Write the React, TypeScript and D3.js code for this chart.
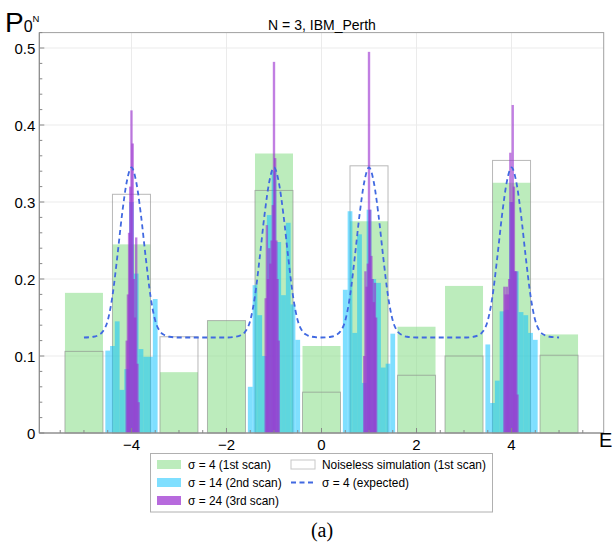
import React, { useEffect, useRef } from 'react';
import * as d3 from 'd3';

// 1st scan (sigma = 4): one wide bar per energy level
const energies = [-5, -4, -3, -2, -1, 0, 1, 2, 3, 4, 5];
const scan1 = [0.182, 0.245, 0.079, 0.146, 0.363, 0.113, 0.275, 0.138, 0.191, 0.325, 0.128];
const noiseless = [0.106, 0.310, 0.125, 0.146, 0.315, 0.053, 0.347, 0.075, 0.100, 0.354, 0.101];

// 2nd and 3rd scans zoom in around the peaks
const peaks = [-4, -1, 1, 4];
const scan2Offsets = [-0.5, -0.4, -0.3, -0.2, -0.1, 0, 0.1, 0.2, 0.3, 0.4, 0.5];
const scan2 = [
  [0.107, 0.113, 0.145, 0.056, 0.083, 0.300, 0.207, 0.109, 0.099, 0.099, 0.174],
  [0.060, 0.192, 0.153, 0.100, 0.283, 0.340, 0.248, 0.179, 0.273, 0.167, 0.121],
  [0.186, 0.288, 0.130, 0.258, 0.065, 0.290, 0.200, 0.195, 0.085, 0.090, 0.129],
  [0.115, 0.039, 0.068, 0.158, 0.160, 0.300, 0.210, 0.157, 0.153, 0.130, 0.121]
];
const scan3Offsets = [-0.2, -0.175, -0.15, -0.125, -0.1, -0.075, -0.05, -0.025, 0, 0.025, 0.05, 0.075, 0.1, 0.125, 0.15, 0.175, 0.2];
const scan3 = [
  [0, 0, 0, 0, 0.12, 0.18, 0.26, 0.32, 0.419, 0.376, 0.20, 0.15, 0.254, 0.09, 0.04, 0, 0],
  [0, 0.175, 0.27, 0.20, 0.24, 0.22, 0.25, 0.296, 0.482, 0.357, 0.25, 0.20, 0.12, 0, 0, 0, 0],
  [0, 0, 0, 0, 0.10, 0.21, 0.19, 0.22, 0.495, 0.29, 0.23, 0.20, 0.17, 0.195, 0.15, 0, 0],
  [0, 0, 0.19, 0.18, 0.19, 0.18, 0.20, 0.364, 0.30, 0.426, 0.32, 0.21, 0.21, 0.05, 0, 0, 0]
];

// expected curve, same profile around every peak
const expectedOffsets = [-1, -0.8, -0.7, -0.6, -0.5, -0.4, -0.3, -0.2, -0.1, 0, 0.1, 0.2, 0.3, 0.4, 0.5, 0.6, 0.7, 0.8, 1];
const expectedProfile = [0.124, 0.125, 0.127, 0.132, 0.146, 0.178, 0.228, 0.283, 0.326, 0.345, 0.326, 0.283, 0.228, 0.178, 0.146, 0.132, 0.127, 0.125, 0.124];

const xTicks = [-4, -2, 0, 2, 4];
const yTicks = [0, 0.1, 0.2, 0.3, 0.4, 0.5];

const GREEN = '#90e090';
const BLUE = '#00bfff';
const PURPLE = '#9b30d0';
const DASH = '#4169e1';
const FONT = '"Liberation Sans", Arial, sans-serif';

function App() {
  const ref = useRef<SVGSVGElement>(null);

  useEffect(() => {
    const svg = d3.select(ref.current);
    svg.selectAll('*').remove();

    const x = d3.scaleLinear().domain([-5.94, 5.94]).range([39.3, 603.7]);
    const y = d3.scaleLinear().domain([0, 0.52]).range([433, 32.6]);
    const [x0, x1] = x.range();
    const [yb, yt] = y.range();

    // grid
    const grid = svg.append('g');
    grid.selectAll('line.gx').data(xTicks).enter().append('line')
      .attr('x1', d => x(d)).attr('x2', d => x(d)).attr('y1', yt).attr('y2', yb)
      .attr('stroke', '#ebebeb').attr('stroke-width', 1);
    grid.selectAll('line.gy').data(yTicks.slice(1)).enter().append('line')
      .attr('y1', d => y(d)).attr('y2', d => y(d)).attr('x1', x0).attr('x2', x1)
      .attr('stroke', '#ebebeb').attr('stroke-width', 1);

    // 1st scan bars
    svg.append('g').selectAll('rect').data(energies).enter().append('rect')
      .attr('x', d => x(d - 0.4))
      .attr('width', x(0.4) - x(-0.4))
      .attr('y', (d, i) => y(scan1[i]))
      .attr('height', (d, i) => yb - y(scan1[i]))
      .attr('fill', GREEN).attr('fill-opacity', 0.6);

    // noiseless boxes
    svg.append('g').selectAll('rect').data(energies).enter().append('rect')
      .attr('x', d => x(d - 0.4))
      .attr('width', x(0.4) - x(-0.4))
      .attr('y', (d, i) => y(noiseless[i]))
      .attr('height', (d, i) => yb - y(noiseless[i]))
      .attr('fill', 'none').attr('stroke', '#888').attr('stroke-opacity', 0.6).attr('stroke-width', 1);

    // 2nd scan
    const s2 = peaks.flatMap((p, k) => scan2Offsets.map((o, j) => ({ e: p + o, v: scan2[k][j] })));
    svg.append('g').selectAll('rect').data(s2).enter().append('rect')
      .attr('x', d => x(d.e - 0.05))
      .attr('width', x(0.05) - x(-0.05))
      .attr('y', d => y(d.v))
      .attr('height', d => yb - y(d.v))
      .attr('fill', BLUE).attr('fill-opacity', 0.5);

    // 3rd scan, overlapping bars
    const s3 = peaks.flatMap((p, k) => scan3Offsets.map((o, j) => ({ e: p + o, v: scan3[k][j] }))).filter(d => d.v > 0);
    svg.append('g').selectAll('rect').data(s3).enter().append('rect')
      .attr('x', d => x(d.e - 0.025))
      .attr('width', x(0.025) - x(-0.025))
      .attr('y', d => y(d.v))
      .attr('height', d => yb - y(d.v))
      .attr('fill', PURPLE).attr('fill-opacity', 0.62);

    // expected curve
    const pts = new Map<number, number>();
    peaks.forEach(p => expectedOffsets.forEach((o, j) => {
      const e = Math.round((p + o) * 100) / 100;
      pts.set(e, expectedProfile[j]);
    }));
    const curve = Array.from(pts.entries()).sort((a, b) => a[0] - b[0]);
    const line = d3.line<[number, number]>()
      .x(d => x(d[0])).y(d => y(d[1]))
      .curve(d3.curveMonotoneX);
    svg.append('path').attr('d', line(curve))
      .attr('fill', 'none').attr('stroke', DASH).attr('stroke-width', 1.8)
      .attr('stroke-dasharray', '5,3.5');

    // frame
    svg.append('rect').attr('x', x0).attr('y', yt).attr('width', x1 - x0).attr('height', yb - yt)
      .attr('fill', 'none').attr('stroke', '#a0a0a0').attr('stroke-width', 1);

    // ticks, inward
    const axes = svg.append('g').attr('stroke', '#888').attr('stroke-width', 1);
    axes.selectAll('line.ty').data(d3.range(0, 0.521, 0.02)).enter().append('line')
      .attr('x1', x0).attr('x2', (d, i) => x0 + (i % 5 === 0 ? 5 : 3))
      .attr('y1', d => y(d)).attr('y2', d => y(d));
    axes.selectAll('line.tx').data(d3.range(-5.5, 5.51, 0.5)).enter().append('line')
      .attr('y1', yb).attr('y2', (d) => yb - (d % 2 === 0 ? 5 : 3))
      .attr('x1', d => x(d)).attr('x2', d => x(d));
    svg.append('line').attr('x1', x0).attr('x2', x1).attr('y1', yb).attr('y2', yb)
      .attr('stroke', '#888');
    svg.append('line').attr('x1', x0).attr('x2', x0).attr('y1', yt).attr('y2', yb)
      .attr('stroke', '#888');

    // tick labels
    const fmtX = (d: number) => (d < 0 ? '\u2212' + Math.abs(d) : String(d));
    svg.append('g').selectAll('text').data(xTicks).enter().append('text')
      .attr('x', d => x(d)).attr('y', yb + 17)
      .attr('text-anchor', 'middle').attr('font-family', FONT).attr('font-size', 15)
      .text(fmtX);
    svg.append('g').selectAll('text').data(yTicks).enter().append('text')
      .attr('x', x0 - 4).attr('y', d => y(d) + 5.5)
      .attr('text-anchor', 'end').attr('font-family', FONT).attr('font-size', 15)
      .text(d => (d === 0 ? '0' : d3.format('.1f')(d)));

    // titles
    svg.append('text').attr('x', 322).attr('y', 30).attr('text-anchor', 'middle')
      .attr('font-family', FONT).attr('font-size', 14).text('N = 3, IBM_Perth');
    const pl = svg.append('text').attr('x', 5).attr('y', 32).attr('font-family', FONT);
    pl.append('tspan').attr('font-size', 28).text('P');
    pl.append('tspan').attr('font-size', 16).text('0');
    pl.append('tspan').attr('font-size', 9.5).attr('dy', -10).text('N');
    svg.append('text').attr('x', 599).attr('y', 447).attr('font-family', FONT)
      .attr('font-size', 20).text('E');

    // legend
    const lg = svg.append('g');
    lg.append('rect').attr('x', 150.5).attr('y', 453.5).attr('width', 342).attr('height', 58.5)
      .attr('fill', '#fff').attr('stroke', '#b0b0b0');
    const rows = [464.5, 482.5, 500.5];
    const left = [
      { label: '\u03c3 = 4 (1st scan)', fill: GREEN, op: 0.6 },
      { label: '\u03c3 = 14 (2nd scan)', fill: BLUE, op: 0.5 },
      { label: '\u03c3 = 24 (3rd scan)', fill: PURPLE, op: 0.72 }
    ];
    left.forEach((d, i) => {
      lg.append('rect').attr('x', 157).attr('y', rows[i] - 4.5).attr('width', 24).attr('height', 9)
        .attr('fill', d.fill).attr('fill-opacity', d.op);
      lg.append('text').attr('x', 188).attr('y', rows[i] + 4.5).attr('font-family', FONT)
        .attr('font-size', 11.9).text(d.label);
    });
    lg.append('rect').attr('x', 291).attr('y', rows[0] - 4.5).attr('width', 24).attr('height', 9)
      .attr('fill', '#fff').attr('stroke', '#c8c8c8');
    lg.append('text').attr('x', 322).attr('y', rows[0] + 4.5).attr('font-family', FONT)
      .attr('font-size', 11.9).text('Noiseless simulation (1st scan)');
    lg.append('line').attr('x1', 291).attr('x2', 315).attr('y1', rows[1]).attr('y2', rows[1])
      .attr('stroke', DASH).attr('stroke-width', 1.8).attr('stroke-dasharray', '5,3.5');
    lg.append('text').attr('x', 322).attr('y', rows[1] + 4.5).attr('font-family', FONT)
      .attr('font-size', 11.9).text('\u03c3 = 4 (expected)');

    svg.append('text').attr('x', 322).attr('y', 537).attr('text-anchor', 'middle')
      .attr('font-family', '"Liberation Serif", "Times New Roman", serif').attr('font-size', 20)
      .text('(a)');
  }, []);

  return (
    <svg ref={ref} width={613} height={546}
      style={{ position: 'absolute', left: 0, top: 0, background: '#fff' }} />
  );
}

export default App;
